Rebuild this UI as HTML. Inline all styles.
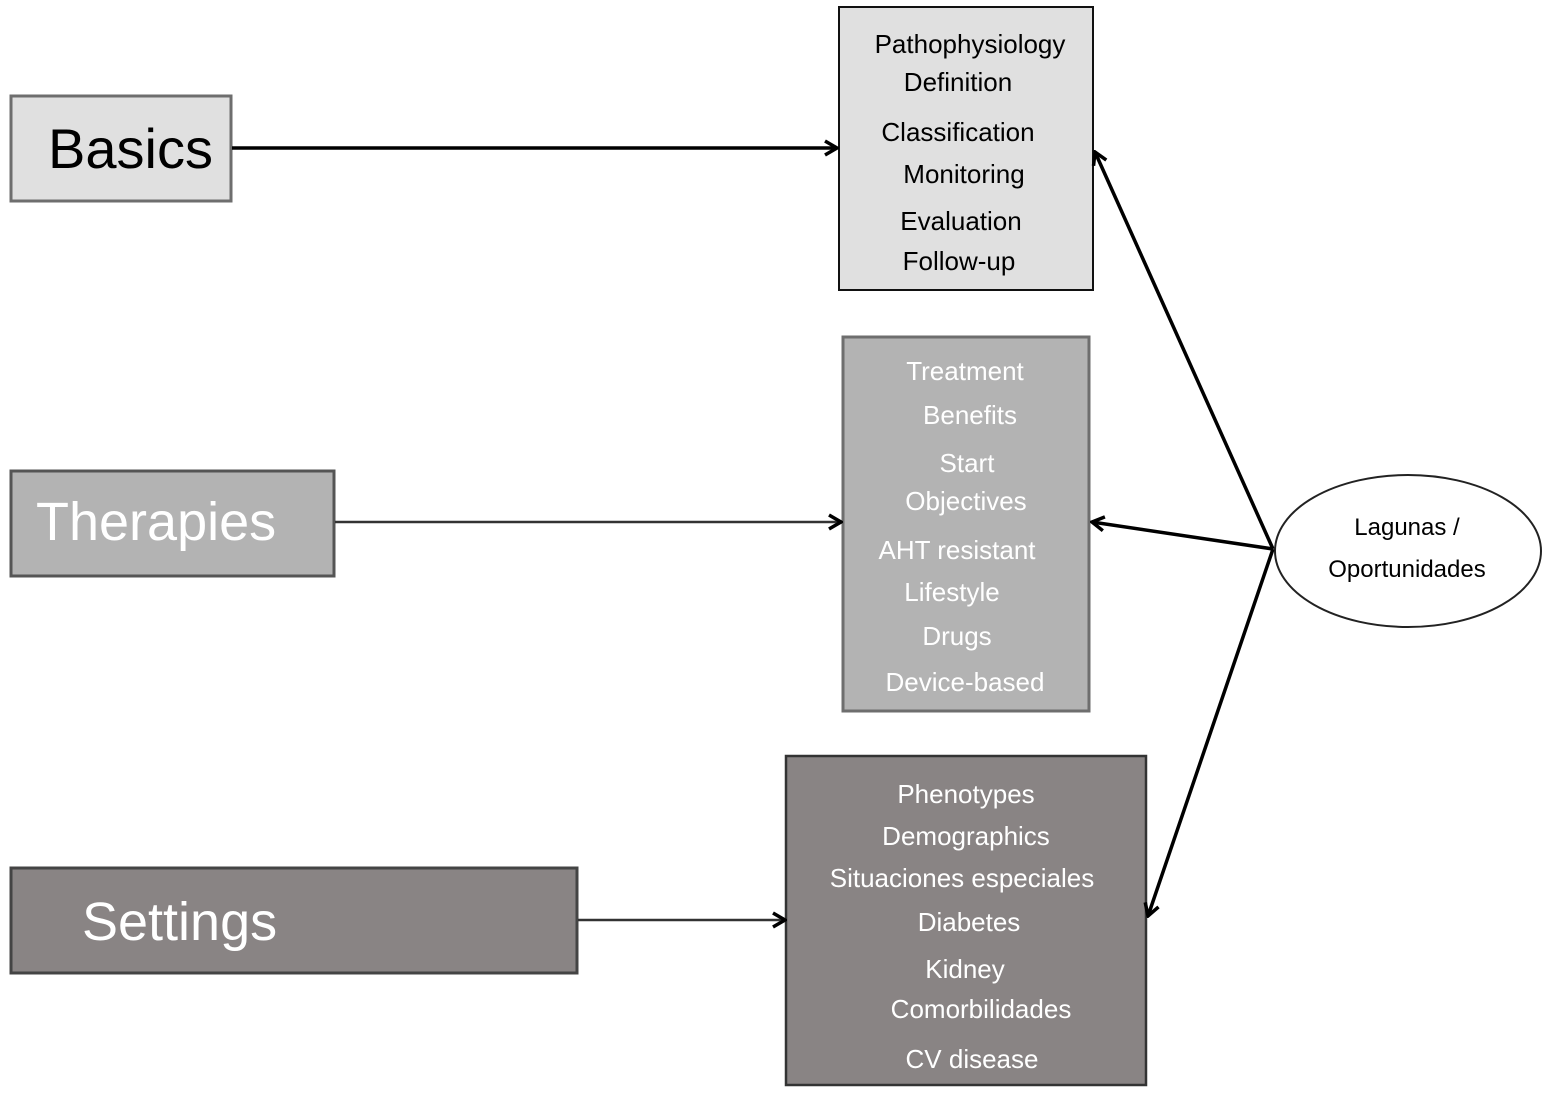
<!DOCTYPE html>
<html><head><meta charset="utf-8"><style>
html,body{margin:0;padding:0;background:#fff;}
svg{display:block;}
text{font-family:"Liberation Sans",Arial,sans-serif;}
</style></head><body>
<svg width="1550" height="1095" viewBox="0 0 1550 1095" xmlns="http://www.w3.org/2000/svg">
<defs>
<marker id="a" viewBox="0 0 20 20" refX="18" refY="10" markerWidth="20" markerHeight="20" markerUnits="userSpaceOnUse" orient="auto">
<polyline points="6,3 18,10 6,17" fill="none" stroke="#000" stroke-width="3.5"/>
</marker>
</defs>
<!-- left boxes -->
<rect x="11" y="96" width="220" height="105" fill="#e0e0e0" stroke="#6e6e6e" stroke-width="3"/>
<text x="48" y="168" font-size="56" fill="#000">Basics</text>
<rect x="11" y="471" width="323" height="105" fill="#b3b3b3" stroke="#555" stroke-width="3"/>
<text x="36" y="540" font-size="54" fill="#fff">Therapies</text>
<rect x="11" y="868" width="566" height="105" fill="#898484" stroke="#444" stroke-width="3"/>
<text x="82" y="940" font-size="54" fill="#fff">Settings</text>

<!-- right boxes -->
<rect x="839" y="7" width="254" height="283" fill="#e0e0e0" stroke="#111" stroke-width="2"/>
<g font-size="26" fill="#000" text-anchor="middle">
<text x="970" y="53">Pathophysiology</text>
<text x="958" y="91">Definition</text>
<text x="958" y="141">Classification</text>
<text x="964" y="183">Monitoring</text>
<text x="961" y="230">Evaluation</text>
<text x="959" y="270">Follow-up</text>
</g>
<rect x="843" y="337" width="246" height="374" fill="#b3b3b3" stroke="#6e6e6e" stroke-width="3"/>
<g font-size="26" fill="#fff" text-anchor="middle">
<text x="965" y="380">Treatment</text>
<text x="970" y="424">Benefits</text>
<text x="967" y="472">Start</text>
<text x="966" y="510">Objectives</text>
<text x="957" y="559">AHT resistant</text>
<text x="952" y="601">Lifestyle</text>
<text x="957" y="645">Drugs</text>
<text x="965" y="691">Device-based</text>
</g>
<rect x="786" y="756" width="360" height="329" fill="#898484" stroke="#333" stroke-width="2.5"/>
<g font-size="26" fill="#fff" text-anchor="middle">
<text x="966" y="803">Phenotypes</text>
<text x="966" y="845">Demographics</text>
<text x="962" y="887">Situaciones especiales</text>
<text x="969" y="931">Diabetes</text>
<text x="965" y="978">Kidney</text>
<text x="981" y="1018">Comorbilidades</text>
<text x="972" y="1068">CV disease</text>
</g>

<!-- ellipse -->
<ellipse cx="1408" cy="551" rx="133" ry="76" fill="#fff" stroke="#222" stroke-width="2"/>
<g font-size="24" fill="#000" text-anchor="middle">
<text x="1407" y="535">Lagunas /</text>
<text x="1407" y="577">Oportunidades</text>
</g>

<!-- connectors -->
<line x1="232" y1="148" x2="837" y2="148" stroke="#000" stroke-width="3.5" marker-end="url(#a)"/>
<line x1="335" y1="522" x2="841" y2="522" stroke="#333" stroke-width="2.5" marker-end="url(#a)"/>
<line x1="578" y1="920" x2="785" y2="920" stroke="#333" stroke-width="2.5" marker-end="url(#a)"/>
<line x1="1273" y1="549" x2="1095" y2="152" stroke="#000" stroke-width="3.5" marker-end="url(#a)"/>
<line x1="1273" y1="549" x2="1092" y2="522" stroke="#000" stroke-width="3.5" marker-end="url(#a)"/>
<line x1="1273" y1="549" x2="1148" y2="916" stroke="#000" stroke-width="3.5" marker-end="url(#a)"/>
</svg>
</body></html>
